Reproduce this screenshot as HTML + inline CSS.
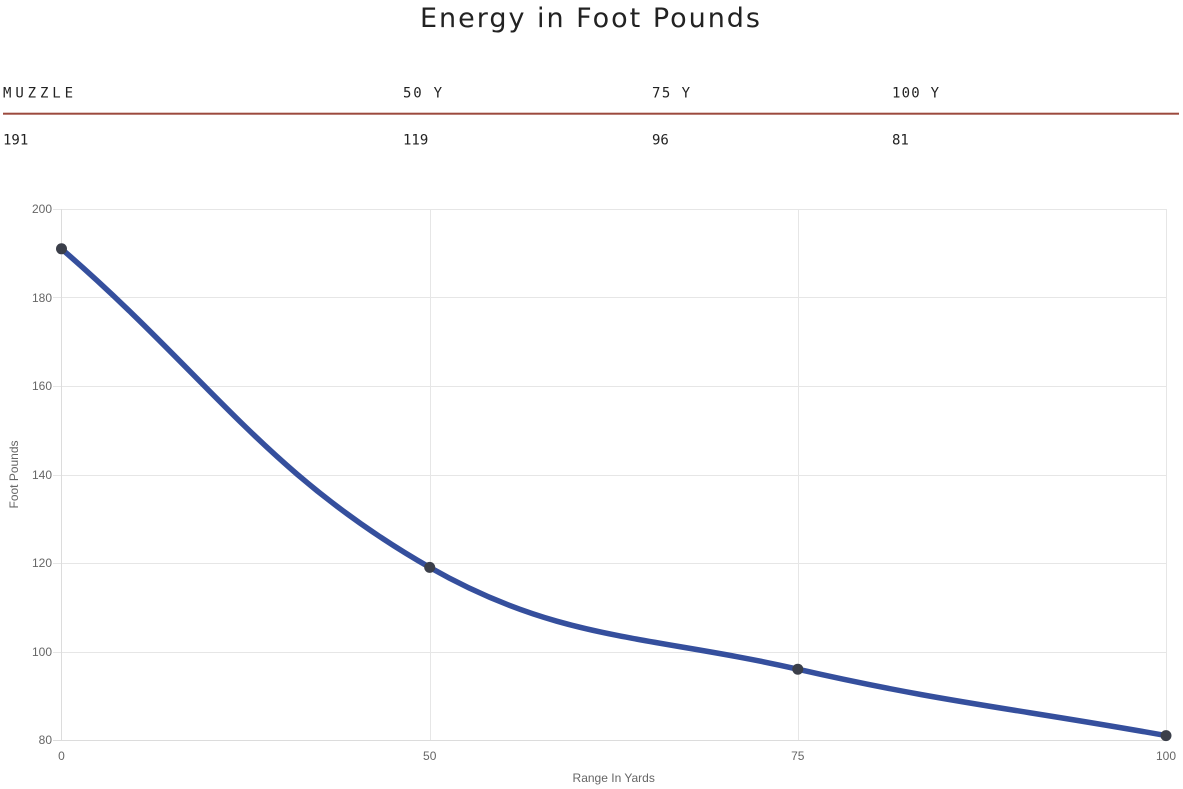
<!DOCTYPE html>
<html>
<head>
<meta charset="utf-8">
<style>
  html,body{margin:0;padding:0;background:#fff;}
  body{width:1183px;height:789px;overflow:hidden;}
  svg{display:block;}
</style>
</head>
<body>
<svg width="1183" height="789" viewBox="0 0 1183 789" xmlns="http://www.w3.org/2000/svg">
  <!-- Title -->
  <text x="420" y="27" font-family="'DejaVu Sans','Liberation Sans',sans-serif" font-size="27" fill="#222" textLength="340" lengthAdjust="spacing">Energy in Foot Pounds</text>

  <!-- Table header -->
  <g font-family="'DejaVu Sans Mono','Liberation Mono',monospace" font-size="14" fill="#222">
    <text x="3" y="97.5" textLength="70" lengthAdjust="spacing">MUZZLE</text>
    <text x="403" y="97.5" textLength="39" lengthAdjust="spacing">50 Y</text>
    <text x="652" y="97.5" textLength="38" lengthAdjust="spacing">75 Y</text>
    <text x="892" y="97.5" textLength="47" lengthAdjust="spacing">100 Y</text>
  </g>
  <rect x="3" y="112.7" width="1176" height="2" fill="#9c4a3e"/>
  <g font-family="'DejaVu Sans Mono','Liberation Mono',monospace" font-size="14" fill="#222">
    <text x="3" y="144.5">191</text>
    <text x="403" y="144.5">119</text>
    <text x="652" y="144.5">96</text>
    <text x="892" y="144.5">81</text>
  </g>

  <!-- Grid -->
  <g stroke="#e6e6e6" stroke-width="1" shape-rendering="crispEdges">
    <line x1="53" y1="209.5" x2="1166" y2="209.5"/>
    <line x1="53" y1="297.5" x2="1166" y2="297.5"/>
    <line x1="53" y1="386.5" x2="1166" y2="386.5"/>
    <line x1="53" y1="475.5" x2="1166" y2="475.5"/>
    <line x1="53" y1="563.5" x2="1166" y2="563.5"/>
    <line x1="53" y1="652.5" x2="1166" y2="652.5"/>
    <line x1="430.5" y1="209" x2="430.5" y2="740"/>
    <line x1="798.5" y1="209" x2="798.5" y2="740"/>
    <line x1="1166.5" y1="209" x2="1166.5" y2="740"/>
  </g>
  <g stroke="#dcdcdc" stroke-width="1" shape-rendering="crispEdges">
    <line x1="53" y1="740.5" x2="1166" y2="740.5"/>
    <line x1="61.5" y1="209" x2="61.5" y2="741"/>
  </g>

  <!-- Y tick labels -->
  <g font-family="'Liberation Sans',Arial,sans-serif" font-size="12" fill="#666" text-anchor="end">
    <text x="52" y="213">200</text>
    <text x="52" y="302">180</text>
    <text x="52" y="390">160</text>
    <text x="52" y="479">140</text>
    <text x="52" y="567">120</text>
    <text x="52" y="656">100</text>
    <text x="52" y="744">80</text>
  </g>
  <!-- X tick labels -->
  <g font-family="'Liberation Sans',Arial,sans-serif" font-size="12" fill="#666" text-anchor="middle">
    <text x="61.5" y="760">0</text>
    <text x="429.7" y="760">50</text>
    <text x="797.8" y="760">75</text>
    <text x="1166" y="760">100</text>
  </g>
  <!-- Axis titles -->
  <text x="613.7" y="782" font-family="'Liberation Sans',Arial,sans-serif" font-size="12" fill="#666" text-anchor="middle">Range In Yards</text>
  <text transform="translate(18,474.5) rotate(-90)" font-family="'Liberation Sans',Arial,sans-serif" font-size="12" fill="#666" text-anchor="middle">Foot Pounds</text>

  <!-- Series -->
  <path d="M61.5,248.8 C208.8,376.2 264.6,473.1 429.7,567.4 C559.1,641.3 649.0,635.2 797.8,669.2 C943.5,702.5 1018.7,709.0 1166,735.6" fill="none" stroke="#354f9d" stroke-width="5.5" stroke-linejoin="round" stroke-linecap="round"/>
  <g fill="#3b3f4a">
    <circle cx="61.5" cy="248.8" r="5.5"/>
    <circle cx="429.7" cy="567.4" r="5.5"/>
    <circle cx="797.8" cy="669.2" r="5.5"/>
    <circle cx="1166" cy="735.6" r="5.5"/>
  </g>
</svg>
</body>
</html>
